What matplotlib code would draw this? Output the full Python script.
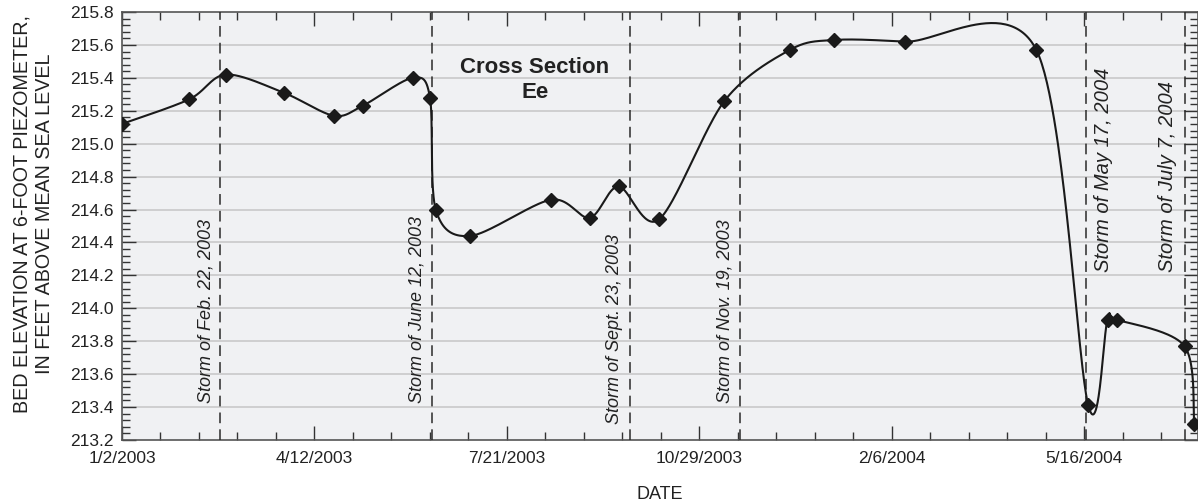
import numpy as np
import matplotlib
matplotlib.use('Agg')
import matplotlib.pyplot as plt
import matplotlib.dates as mdates
from matplotlib.ticker import MultipleLocator, FixedLocator, FuncFormatter

plt.rcParams['font.family'] = ['Liberation Sans', 'DejaVu Sans']

# survey dates and bed elevations (ft above mean sea level)
survey_dates = ['2003-01-02', '2003-02-06', '2003-02-25', '2003-03-27', '2003-04-22',
                '2003-05-07', '2003-06-02', '2003-06-11', '2003-06-14', '2003-07-02',
                '2003-08-13', '2003-09-02', '2003-09-17', '2003-10-08', '2003-11-11',
                '2003-12-15', '2004-01-07', '2004-02-13', '2004-04-21', '2004-05-18',
                '2004-05-28', '2004-06-02', '2004-07-07', '2004-07-12']
elevation = [215.12, 215.27, 215.42, 215.31, 215.17,
             215.23, 215.40, 215.28, 214.60, 214.44,
             214.66, 214.55, 214.74, 214.54, 215.26,
             215.57, 215.63, 215.62, 215.57, 213.41,
             213.93, 213.93, 213.77, 213.30]

storm_dates = ['2003-02-22', '2003-06-12', '2003-09-23', '2003-11-19', '2004-05-17', '2004-07-07']
storm_labels = ['Storm of Feb. 22, 2003', 'Storm of June 12, 2003', 'Storm of Sept. 23, 2003',
                'Storm of Nov. 19, 2003', 'Storm of May 17, 2004', 'Storm of July 7, 2004']
# text offset (points), bottom of label (ft), font size
label_dx = [-10, -11, -11, -11, 12, -12]
label_y = [213.425, 213.425, 213.30, 213.425, 214.22, 214.22]
label_fs = [13, 13, 13, 13, 14.5, 14.5]

tick_dates = ['2003-01-02', '2003-04-12', '2003-07-21', '2003-10-29', '2004-02-06', '2004-05-16']

x = mdates.date2num(np.array(survey_dates, dtype='datetime64[D]'))
y = np.array(elevation)

W, H = 1198, 503
fig = plt.figure(figsize=(W / 100, H / 100), dpi=100)
ax = fig.add_axes([122 / W, 1 - 440 / H, (W - 122) / W, 428 / H])
ax.set_facecolor('#f0f1f3')

x0 = mdates.date2num(np.datetime64('2003-01-02'))
ax.set_xlim(x0, x0 + 559)
ax.set_ylim(213.2, 215.8)

# smoothed line (Bezier / Catmull-Rom in screen space, like a spreadsheet "smoothed line")
P = ax.transData.transform(np.column_stack([x, y]))
Pe = np.vstack([P[0], P, P[-1]])
curve = []
t = np.linspace(0, 1, 60)[:, None]
k = 1 / 6.5
for i in range(len(P) - 1):
    p0, p1, p2, p3 = Pe[i], Pe[i + 1], Pe[i + 2], Pe[i + 3]
    c1 = p1 + (p2 - p0) * k
    c2 = p2 - (p3 - p1) * k
    seg = (1 - t) ** 3 * p1 + 3 * (1 - t) ** 2 * t * c1 + 3 * (1 - t) * t ** 2 * c2 + t ** 3 * p2
    curve.append(seg)
curve = ax.transData.inverted().transform(np.vstack(curve))

for v in np.arange(213.4, 215.7, 0.2):
    ax.axhline(v, color='#c9c9c9', lw=1.2, zorder=1)

ax.plot(curve[:, 0], curve[:, 1], color='#1a1a1a', lw=1.5, zorder=4)
ax.plot(x, y, 'D', color='#1a1a1a', ms=7, zorder=5, clip_on=True)

for d, lab, dx, ly, fs in zip(storm_dates, storm_labels, label_dx, label_y, label_fs):
    xd = mdates.date2num(np.datetime64(d))
    ax.axvline(xd, color='#2a2a2a', lw=1.1, ls=(0, (7, 4)), zorder=3)
    ax.annotate(lab, xy=(xd, ly), xytext=(dx, 0), textcoords='offset points',
                rotation=90, ha='center', va='bottom', fontsize=fs, style='italic',
                color='#222222', zorder=6)

ax.text(0.3835, 0.84, 'Cross Section\nEe', transform=ax.transAxes, ha='center', va='center',
        fontsize=16, fontweight='bold', color='#222222', linespacing=1.25)

# ticks
ax.xaxis.set_major_locator(FixedLocator(mdates.date2num(np.array(tick_dates, dtype='datetime64[D]'))))
ax.xaxis.set_minor_locator(FixedLocator(x0 + np.arange(0, 560, 20)))
ax.xaxis.set_major_formatter(FuncFormatter(
    lambda v, p: '{d.month}/{d.day}/{d.year}'.format(d=mdates.num2date(v))))
ax.yaxis.set_major_locator(MultipleLocator(0.2))
ax.yaxis.set_minor_locator(MultipleLocator(0.04))
ax.yaxis.set_major_formatter(FuncFormatter(lambda v, p: '%.1f' % v))

ax.tick_params(which='both', direction='in', top=True, right=True, colors='#333333',
               labelsize=12.5, labelcolor='#222222', width=1)
ax.tick_params(which='major', length=10)
ax.tick_params(which='minor', length=6)
ax.tick_params(axis='x', pad=8)
ax.tick_params(axis='y', pad=6)

for s in ax.spines.values():
    s.set_color('#555555')
    s.set_linewidth(1.2)

ax.set_xlabel('DATE', fontsize=13, color='#222222', labelpad=14)
fig.text(33 / W, 1 - 214 / H, 'BED ELEVATION AT 6-FOOT PIEZOMETER,\nIN FEET ABOVE MEAN SEA LEVEL',
         rotation=90, ha='center', va='center', fontsize=14.2, color='#222222',
         linespacing=1.25, multialignment='center')

fig.savefig('out.png', dpi=100)
